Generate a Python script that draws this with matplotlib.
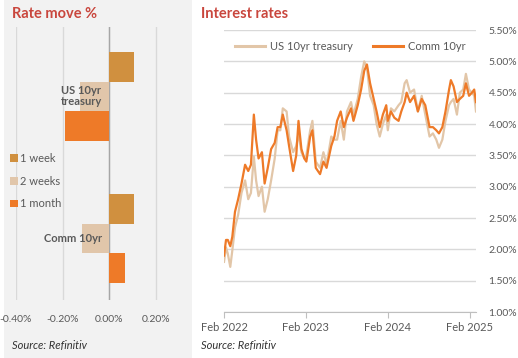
import matplotlib
matplotlib.use('Agg')
import matplotlib.pyplot as plt
import numpy as np
import pandas as pd
from matplotlib.patches import Rectangle

plt.rcParams['font.family'] = ['Lato', 'DejaVu Sans']

# ---------------- Left chart data (rate move, %) ----------------
instruments = ['US 10yr\ntreasury', 'Comm 10yr']
periods = ['1 week', '2 weeks', '1 month']
move_1w = [0.107, 0.107]
move_2w = [-0.124, -0.116]
move_1m = [-0.190, 0.067]
bar_ticks = [-0.4, -0.2, 0.0, 0.2]
bar_tick_labels = ['-0.40%', '-0.20%', '0.00%', '0.20%']

# ---------------- Right chart data (interest rates, %) ----------------
dates = ['2022-02-01', '2022-02-10', '2022-02-18', '2022-03-01', '2022-03-10', '2022-03-22',
         '2022-04-05', '2022-04-20', '2022-05-06', '2022-05-20', '2022-06-01', '2022-06-14',
         '2022-06-24', '2022-07-05', '2022-07-20', '2022-08-01', '2022-08-15', '2022-08-30',
         '2022-09-15', '2022-09-28', '2022-10-10', '2022-10-21', '2022-11-07', '2022-11-18',
         '2022-12-06', '2022-12-20', '2022-12-30', '2023-01-12', '2023-01-25', '2023-02-03',
         '2023-02-20', '2023-03-02', '2023-03-17', '2023-04-05', '2023-04-20', '2023-05-04',
         '2023-05-25', '2023-06-08', '2023-06-20', '2023-07-06', '2023-07-20', '2023-08-03',
         '2023-08-21', '2023-09-01', '2023-09-20', '2023-10-05', '2023-10-19', '2023-10-31',
         '2023-11-14', '2023-11-30', '2023-12-13', '2023-12-27', '2024-01-10', '2024-01-25',
         '2024-02-01', '2024-02-15', '2024-03-01', '2024-03-20', '2024-04-01', '2024-04-16',
         '2024-04-25', '2024-05-10', '2024-05-28', '2024-06-14', '2024-07-01', '2024-07-17',
         '2024-08-05', '2024-08-20', '2024-09-04', '2024-09-16', '2024-10-01', '2024-10-15',
         '2024-10-31', '2024-11-08', '2024-11-20', '2024-12-05', '2024-12-18', '2025-01-02',
         '2025-01-14', '2025-01-28', '2025-02-10', '2025-02-20', '2025-02-28']
us10 = [1.80, 2.03, 1.93, 1.72, 1.98, 2.35,
        2.55, 2.90, 3.10, 2.80, 2.90, 3.48,
        3.10, 2.85, 3.00, 2.60, 2.80, 3.10,
        3.45, 3.90, 3.90, 4.25, 4.20, 3.80,
        3.55, 3.65, 3.85, 3.55, 3.45, 3.50,
        3.90, 4.05, 3.40, 3.30, 3.55, 3.35,
        3.80, 3.75, 3.75, 4.05, 3.75, 4.20,
        4.35, 4.15, 4.40, 4.75, 5.00, 4.90,
        4.45, 4.30, 4.00, 3.80, 4.00, 4.15,
        3.90, 4.25, 4.20, 4.30, 4.35, 4.65,
        4.70, 4.50, 4.55, 4.20, 4.45, 4.15,
        3.80, 3.85, 3.75, 3.62, 3.75, 4.05,
        4.30, 4.35, 4.40, 4.15, 4.50, 4.55,
        4.80, 4.55, 4.50, 4.45, 4.20]
comm10 = [1.90, 2.15, 2.15, 2.05, 2.20, 2.60,
          2.80, 3.05, 3.35, 3.25, 3.35, 4.15,
          3.75, 3.45, 3.55, 3.05, 3.30, 3.60,
          3.70, 3.95, 3.95, 4.15, 3.90, 3.65,
          3.25, 3.50, 4.05, 3.60, 3.45, 3.40,
          3.80, 3.90, 3.30, 3.20, 3.40, 3.30,
          3.65, 3.80, 4.05, 4.20, 3.95, 4.10,
          4.25, 4.05, 4.30, 4.55, 4.85, 4.95,
          4.65, 4.40, 4.20, 3.95, 4.15, 4.30,
          4.05, 4.20, 4.10, 4.05, 4.20, 4.35,
          4.50, 4.35, 4.45, 4.20, 4.40, 4.30,
          3.95, 3.95, 3.90, 3.85, 3.95, 4.20,
          4.55, 4.70, 4.60, 4.35, 4.40, 4.45,
          4.65, 4.45, 4.50, 4.55, 4.35]
rate_ticks = [1.0, 1.5, 2.0, 2.5, 3.0, 3.5, 4.0, 4.5, 5.0, 5.5]
year_ticks = ['2022-02-01', '2023-02-01', '2024-02-01', '2025-02-01']
year_tick_labels = ['Feb 2022', 'Feb 2023', 'Feb 2024', 'Feb 2025']

# ---------------- Styling ----------------
W, H = 518, 358
TITLE_C = '#c9463d'
TEXT_C = '#595959'
GRID_C = '#d9d9d9'
FS = 7.5
FS2 = 8
bar_colors = ['#d0903f', '#e1c6aa', '#ee7a28']
line_us = '#e2c6a8'
line_comm = '#ee7a28'

def fx(px):
    return px / W

def fy(py):
    return 1 - py / H

fig = plt.figure(figsize=(W / 100, H / 100), dpi=100)
fig.patch.set_facecolor('white')
fig.add_artist(Rectangle((fx(4), 0), fx(192 - 4), 1, transform=fig.transFigure,
                         facecolor='#f2f2f2', edgecolor='none', zorder=-5))

# ---------------- Left: bar chart ----------------
ax1 = fig.add_axes([fx(16), fy(300), fx(191 - 16), (300 - 27) / H])
ax1.set_facecolor('none')
bh = 0.208
ypos = np.arange(len(instruments))
for i, (vals, lab) in enumerate(zip([move_1w, move_2w, move_1m], periods)):
    ax1.barh(ypos + (i - 1) * bh, vals, height=bh, color=bar_colors[i], label=lab,
             zorder=2, linewidth=0)
ax1.set_ylim(1.433, -0.489)
ax1.set_xlim(-0.4, 0.35)
ax1.set_xticks(bar_ticks)
ax1.set_xticklabels(bar_tick_labels)
ax1.set_yticks([])
ax1.grid(axis='x', color=GRID_C, lw=1, zorder=0)
ax1.set_axisbelow(True)
ax1.axvline(0, color='#a6a6a6', lw=1, zorder=1.5)
for s in ax1.spines.values():
    s.set_visible(False)
ax1.tick_params(axis='x', length=0, pad=11, labelsize=FS, labelcolor=TEXT_C)
for yv, name in zip(ypos, instruments):
    ax1.text(-0.032, yv, name, ha='right', va='center', multialignment='center',
             fontsize=FS2, fontweight='bold', color=TEXT_C, zorder=4, linespacing=1.0)
ax1.legend(loc='upper left', bbox_to_anchor=(fx(10), fy(153)), bbox_transform=fig.transFigure,
           frameon=False, handlelength=0.7, handleheight=0.7, handletextpad=0.2,
           labelspacing=1.05, fontsize=FS2, labelcolor=TEXT_C, borderaxespad=0, borderpad=0)

fig.text(fx(12), fy(14), 'Rate move %', fontsize=10.5, fontweight='bold', color=TITLE_C,
         ha='left', va='center')
fig.text(fx(12), fy(346), 'Source: Refinitiv', fontsize=FS2, style='italic', color='#333333',
         ha='left', va='center')

# ---------------- Right: line chart ----------------
d = pd.to_datetime(dates)
ax2 = fig.add_axes([fx(224), fy(312), fx(476 - 224), (312 - 30) / H])
ax2.set_facecolor('none')
ax2.plot(d, us10, color=line_us, lw=1.6, label='US 10yr treasury', zorder=2)
ax2.plot(d, comm10, color=line_comm, lw=1.6, label='Comm 10yr', zorder=3)
ax2.set_ylim(1.0, 5.5)
ax2.set_yticks(rate_ticks)
ax2.set_yticklabels([f'{v:.2f}%' for v in rate_ticks])
ax2.yaxis.tick_right()
ax2.tick_params(axis='y', length=0, pad=9, labelsize=FS, labelcolor=TEXT_C)
ax2.grid(axis='y', color=GRID_C, lw=1, zorder=0)
ax2.set_axisbelow(True)
ax2.set_xlim(pd.Timestamp('2022-02-01'), pd.Timestamp('2025-02-28'))
ax2.set_xticks(pd.to_datetime(year_ticks))
ax2.set_xticklabels(year_tick_labels)
ax2.tick_params(axis='x', length=4, color='#bfbfbf', pad=3, labelsize=FS2, labelcolor=TEXT_C)
for s in ['top', 'right', 'left']:
    ax2.spines[s].set_visible(False)
ax2.spines['bottom'].set_color('#bfbfbf')
ax2.legend(loc='center', bbox_to_anchor=(0.5, 0.943), ncol=2, frameon=False,
           handlelength=2.7, handletextpad=0.45, columnspacing=1.8, fontsize=FS2,
           labelcolor=TEXT_C, borderaxespad=0, borderpad=0)
for lh in ax2.get_legend().get_lines():
    lh.set_linewidth(2.2)

fig.text(fx(201), fy(14), 'Interest rates', fontsize=10.5, fontweight='bold', color=TITLE_C,
         ha='left', va='center')
fig.text(fx(201), fy(346), 'Source: Refinitiv', fontsize=FS2, style='italic', color='#333333',
         ha='left', va='center')

fig.savefig('out.png', dpi=100, facecolor='white')
